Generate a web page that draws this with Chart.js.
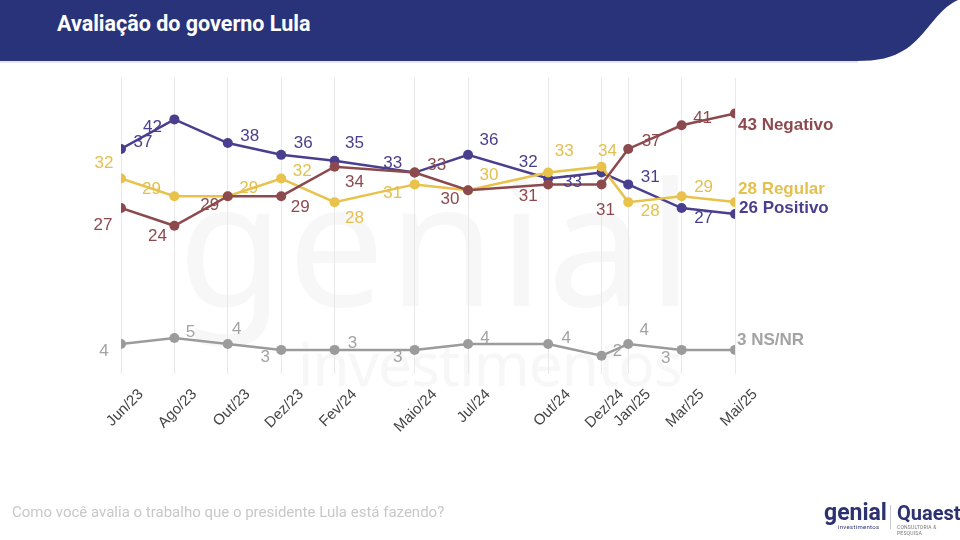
<!DOCTYPE html>
<html>
<head>
<meta charset="utf-8">
<script src="https://cdn.jsdelivr.net/npm/chart.js@4.4.1/dist/chart.umd.min.js"></script>
<style>
  html, body { margin: 0; padding: 0; background: #fff; }
  .page { position: relative; width: 960px; height: 540px; overflow: hidden; font-family: Roboto, "Liberation Sans", sans-serif; }
  .banner { position: absolute; left: 0; top: 0; }
  .title { position: absolute; left: 57px; top: 11px; color: #fff; font-weight: bold; font-size: 21.5px; }
  .wm1 { position: absolute; left: 178px; top: 122px; font-family: "Noto Sans", sans-serif; font-size: 172px; color: #f7f7f7; letter-spacing: 4px; }
  .wm2 { position: absolute; left: 298px; top: 322px; font-family: "Noto Sans", sans-serif; font-size: 60px; color: #f7f7f7; letter-spacing: -1px; }
  canvas { position: absolute; left: 0; top: 0; }
  .question { position: absolute; left: 12px; top: 503px; color: #c8c8c8; font-size: 15px; }
  .logo-genial { position: absolute; left: 824px; top: 502px; color: #2c3270; font-weight: bold; font-size: 23px; line-height: 22px; }
  .logo-genial small { display: block; font-size: 6px; line-height: 6px; font-weight: normal; margin-left: 14px; letter-spacing: 0.3px; }
  .sep { position: absolute; left: 890px; top: 505px; width: 1px; height: 24px; background: #c8c8d8; }
  .logo-quaest { position: absolute; left: 897px; top: 502px; color: #2c3270; font-weight: bold; font-size: 20px; line-height: 22px; }
  .logo-quaest small { display: block; font-size: 5px; line-height: 6px; font-weight: normal; color: #777; letter-spacing: 0.2px; }
</style>
</head>
<body>
<div class="page">
  <svg class="banner" width="960" height="64">
    <path d="M0,0 H958 C936,10 926,36 906,49 C892,58 878,61 856,61 H0 Z" fill="#28337a"/>
    <line x1="0" y1="62" x2="858" y2="62" stroke="#c9cfe6" stroke-width="1"/>
  </svg>
  <div class="title">Avaliação do governo Lula</div>
  <div class="wm1">genial</div>
  <div class="wm2">investimentos</div>
  <canvas id="evalChart" width="960" height="540"></canvas>
  <div class="question">Como você avalia o trabalho que o presidente Lula está fazendo?</div>
  <div class="logo-genial">genial<small>investimentos</small></div>
  <div class="sep"></div>
  <div class="logo-quaest">Quaest<small>CONSULTORIA &amp; PESQUISA</small></div>
</div>
<script>
// Survey waves (months since Jun/23) and their axis labels
const months = [0, 2, 4, 6, 8, 11, 13, 16, 18, 19, 21, 23];
const tickLabels = ['Jun/23', 'Ago/23', 'Out/23', 'Dez/23', 'Fev/24', 'Maio/24', 'Jul/24', 'Out/24', 'Dez/24', 'Jan/25', 'Mar/25', 'Mai/25'];

const negativo = [27, 24, 29, 29, 34, 33, 30, 31, 31, 37, 41, 43];
const regular  = [32, 29, 29, 32, 28, 31, 30, 33, 34, 28, 29, 28];
const positivo = [37, 42, 38, 36, 35, 33, 36, 32, 33, 31, 27, 26];
const nsnr     = [4, 5, 4, 3, 3, 3, 4, 4, 2, 4, 3, 3];

// label offsets from each point (dx, dy)
const negOffsets = [[-18, 17], [-17, 11], [-18, 9], [19, 11], [20, 16], [22, -7], [-18, 9], [-20, 12], [4, 26], [23, -8], [21, -7], [3, 12]];
const regOffsets = [[-17, -15], [-23, -7], [21, -8], [21, -7], [20, 16], [-22, 9], [21, -15], [16, -21], [6, -15], [22, 9], [22, -9], [3, -13]];
const posOffsets = [[22, -7], [-22, 8], [22, -7], [22, -12], [20, -17], [-22, -9], [21, -15], [-20, -16], [-29, 10], [22, -7], [22, 10], [4, -6]];
const nsOffsets  = [[-17, 7], [16, -6], [9, -15], [-16, 7], [18, -7], [-17, 7], [17, -6], [18, -6], [16, -4], [16, -14], [-16, 8], [2, -10]];

function toPoints(values) {
  return values.map((v, i) => ({ x: months[i], y: v }));
}

const series = [
  { label: 'Negativo', data: negativo, color: '#8c4a4f', text: '#8c4a4f', offsets: negOffsets },
  { label: 'Regular', data: regular, color: '#e8c24a', text: '#e3c04f', offsets: regOffsets },
  { label: 'Positivo', data: positivo, color: '#4a3f8e', text: '#4a3f8e', offsets: posOffsets },
  { label: 'NS/NR', data: nsnr, color: '#9b9b9b', text: '#a3a3a3', offsets: nsOffsets }
];

// draws the value next to every point, last one with the series name
const pointLabels = {
  id: 'pointLabels',
  afterDatasetsDraw(chart) {
    const ctx = chart.ctx;
    ctx.save();
    ctx.textBaseline = 'middle';
    chart.data.datasets.forEach((ds, di) => {
      const s = series[di];
      const meta = chart.getDatasetMeta(di);
      meta.data.forEach((pt, i) => {
        const [dx, dy] = s.offsets[i];
        const last = i === meta.data.length - 1;
        ctx.fillStyle = s.text;
        if (last) {
          ctx.font = 'bold 17px "Liberation Sans", Arial, sans-serif';
          ctx.textAlign = 'left';
          ctx.fillText(s.data[i] + ' ' + s.label, pt.x + dx, pt.y + dy);
        } else {
          ctx.font = '17px "Liberation Sans", Arial, sans-serif';
          ctx.textAlign = 'center';
          ctx.fillText(String(s.data[i]), pt.x + dx, pt.y + dy);
        }
      });
    });
    ctx.restore();
  }
};

const ctx = document.getElementById('evalChart').getContext('2d');
const evalChart = new Chart(ctx, {
  type: 'line',
  data: {
    datasets: series.map(s => ({
      label: s.label,
      data: toPoints(s.data),
      borderColor: s.color,
      backgroundColor: s.color,
      borderWidth: 2.5,
      pointRadius: 5,
      pointBorderWidth: 0,
      tension: 0
    }))
  },
  options: {
    responsive: false,
    animation: false,
    layout: { padding: { left: 121, right: 225, top: 78, bottom: 92 } },
    plugins: { legend: { display: false }, tooltip: { enabled: false } },
    scales: {
      x: {
        type: 'linear',
        min: 0,
        max: 23,
        afterBuildTicks: (scale) => { scale.ticks = months.map(m => ({ value: m })); },
        grid: { color: '#e8e8e8', drawTicks: false },
        border: { display: false },
        ticks: {
          autoSkip: false,
          maxRotation: 45,
          minRotation: 45,
          padding: 12,
          labelOffset: 20,
          color: '#444',
          font: { family: '"Liberation Sans", Arial, sans-serif', size: 15 },
          callback: (value) => tickLabels[months.indexOf(value)]
        }
      },
      y: {
        display: false,
        min: -1,
        max: 49
      }
    }
  },
  plugins: [pointLabels]
});
</script>
</body>
</html>
